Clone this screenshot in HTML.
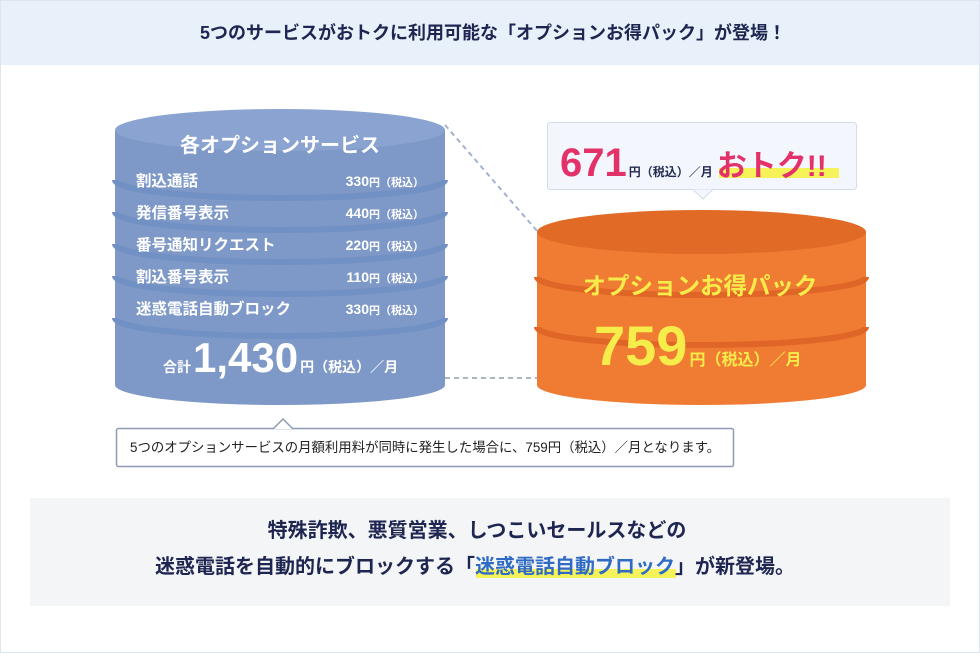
<!DOCTYPE html>
<html><head><meta charset="utf-8"><style>
html,body{margin:0;padding:0;background:#fff}
body{width:980px;height:654px;overflow:hidden;font-family:"Liberation Sans","Noto Sans CJK JP",sans-serif}
</style></head><body>
<svg width="980" height="654" viewBox="0 0 980 654" xmlns="http://www.w3.org/2000/svg" font-family="'Liberation Sans','Noto Sans CJK JP',sans-serif" font-weight="bold">
<rect x="0.5" y="0.5" width="979" height="652" fill="#fff" stroke="#dde5f0"/>
<rect x="1" y="1" width="978" height="64" fill="#e8f0fa"/>
<text x="493" y="39" text-anchor="middle" font-size="18" fill="#1d2550">5つのサービスがおトクに利用可能な「オプションお得パック」が登場！</text>

<line x1="445" y1="125" x2="538" y2="232" stroke="#a3b2cf" stroke-width="2" stroke-dasharray="5,4"/>
<line x1="445" y1="378" x2="538" y2="378" stroke="#8f9bb0" stroke-width="1.5" stroke-dasharray="5,4"/>

<path d="M115 130 L115 385 A165 20 0 0 0 445 385 L445 130 Z" fill="#7e99c8"/>
<g fill="none" stroke="#7190c3" stroke-width="6">
<path d="M115 180 A165 18 0 0 0 445 180"/>
<path d="M115 212 A165 18 0 0 0 445 212"/>
<path d="M115 244 A165 18 0 0 0 445 244"/>
<path d="M115 276 A165 18 0 0 0 445 276"/>
<path d="M115 318 A165 18 0 0 0 445 318"/>
</g>
<ellipse cx="280" cy="130" rx="165" ry="21" fill="#8aa3d0"/>
<text x="280" y="152" text-anchor="middle" font-size="20" fill="#fff">各オプションサービス</text>
<g font-size="15.5" fill="#fff">
<text x="136" y="186">割込通話</text>
<text x="136" y="218">発信番号表示</text>
<text x="136" y="250">番号通知リクエスト</text>
<text x="136" y="282">割込番号表示</text>
<text x="136" y="314">迷惑電話自動ブロック</text>
</g>
<g font-size="14" fill="#fff" text-anchor="end">
<text x="424" y="186">330<tspan font-size="11">円（税込）</tspan></text>
<text x="424" y="218">440<tspan font-size="11">円（税込）</tspan></text>
<text x="424" y="250">220<tspan font-size="11">円（税込）</tspan></text>
<text x="424" y="282">110<tspan font-size="11">円（税込）</tspan></text>
<text x="424" y="314">330<tspan font-size="11">円（税込）</tspan></text>
</g>
<text x="163" y="372" font-size="14" fill="#fff">合計<tspan font-size="42" dx="2">1,430</tspan><tspan font-size="14" dx="2">円（税込）／月</tspan></text>

<rect x="547.5" y="122.5" width="309" height="67" rx="3" fill="#f3f7fd" stroke="#d3dcea"/>
<path d="M693 189.5 L703 199 L713 189.5" fill="#f3f7fd" stroke="#d3dcea"/>
<rect x="719" y="168" width="120" height="10" fill="#f5f25a"/>
<text x="560" y="176" font-size="40" fill="#e3326a">671<tspan font-size="12" fill="#222a50" dx="2">円（税込）／月</tspan><tspan font-size="30" fill="#e3326a" dx="4">おトク!!</tspan></text>

<path d="M537 232 L537 385 A164 20 0 0 0 866 385 L866 232 Z" fill="#f07b33"/>
<path d="M537 277 A164 18 0 0 0 866 277" fill="none" stroke="#df6626" stroke-width="6"/>
<path d="M537 327 A164 18 0 0 0 866 327" fill="none" stroke="#df6626" stroke-width="6"/>
<ellipse cx="701.5" cy="232" rx="164.5" ry="22" fill="#e06a26"/>
<text x="700" y="294" text-anchor="middle" font-size="23.5" fill="#f6ec4a">オプションお得パック</text>
<text x="594" y="365" font-size="56" fill="#f6ec4a">759<tspan font-size="16" dx="2">円（税込）／月</tspan></text>

<rect x="116.5" y="428.5" width="617" height="38" rx="2" fill="#fff" stroke="#8e9bb5" stroke-width="1.5"/>
<path d="M273 429 L283 419 L293 429" fill="#fff" stroke="#8e9bb5" stroke-width="1.5"/>
<text x="130" y="452" font-size="13.4" font-weight="normal" fill="#222">5つのオプションサービスの月額利用料が同時に発生した場合に、759円（税込）／月となります。</text>

<rect x="30" y="498" width="920" height="108" fill="#f4f5f7"/>
<rect x="476" y="569" width="200" height="9" fill="#f5f25a"/>
<text x="477" y="537" text-anchor="middle" font-size="20" fill="#1d2550">特殊詐欺、悪質営業、しつこいセールスなどの</text>
<text x="475" y="573" text-anchor="middle" font-size="20" fill="#1d2550">迷惑電話を自動的にブロックする「<tspan fill="#2f6bc4">迷惑電話自動ブロック</tspan>」が新登場。</text>
</svg>
</body></html>
